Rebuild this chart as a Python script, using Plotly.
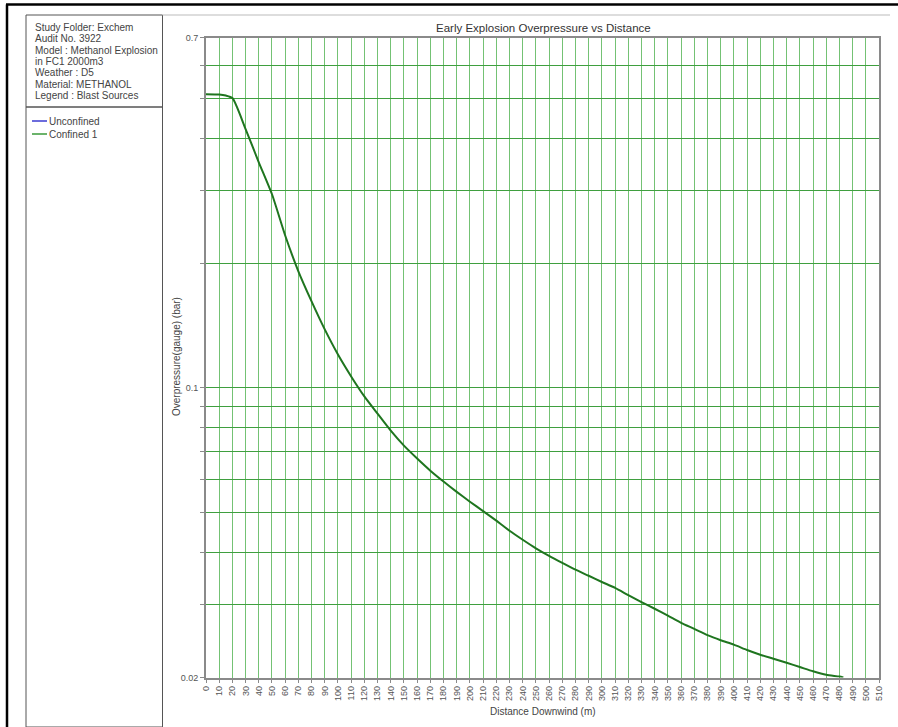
import plotly.graph_objects as go

# ---- data ----
distance_m = [0, 10, 15, 20, 30, 40, 50, 60, 70, 80, 90, 100, 110, 120, 130, 140, 150,
              160, 170, 180, 190, 200, 210, 220, 230, 240, 250, 260, 270, 280, 290,
              300, 310, 320, 330, 340, 350, 360, 370, 380, 390, 400, 410, 420, 430,
              440, 450, 460, 470, 480, 483]
confined_1 = [0.511, 0.510, 0.507, 0.500, 0.421, 0.350, 0.293, 0.233, 0.191, 0.1616,
              0.1383, 0.1203, 0.1065, 0.0953, 0.0866, 0.0788, 0.0725, 0.0675, 0.0631,
              0.0594, 0.0561, 0.0531, 0.0504, 0.0478, 0.0452, 0.0430, 0.0410, 0.0393,
              0.0378, 0.0364, 0.0352, 0.0340, 0.0329, 0.0316, 0.0304, 0.0293, 0.0282,
              0.0271, 0.0262, 0.0253, 0.0246, 0.0240, 0.0233, 0.0227, 0.0222, 0.0217,
              0.0212, 0.0207, 0.0203, 0.0201, 0.0200]

y_grid_vals = [0.02, 0.03, 0.04, 0.05, 0.06, 0.07, 0.08, 0.09, 0.1, 0.2, 0.3, 0.4, 0.5, 0.6, 0.7]
y_grid_text = ["0.02", "", "", "", "", "", "", "", "0.1", "", "", "", "", "", "0.7"]
x_tick_vals = list(range(0, 520, 10))

info_lines = ["Study Folder: Exchem", "Audit No. 3922", "Model : Methanol Explosion",
              "in FC1 2000m3", "Weather : D5", "Material: METHANOL", "Legend : Blast Sources"]
legend_names = ["Unconfined", "Confined 1"]
legend_colors = ["#3b3bd0", "#3a9a3a"]

W, H = 898, 727
def px(x): return x / W
def py(y): return 1 - y / H

FONT = "Liberation Sans, Arial, sans-serif"

fig = go.Figure()
fig.add_trace(go.Scatter(x=distance_m, y=confined_1, mode="lines", name="Confined 1",
                         line=dict(color="#1f751f", width=2, shape="spline", smoothing=0.6),
                         showlegend=False, cliponaxis=True))

fig.update_layout(
    width=W, height=H,
    margin=dict(l=0, r=0, t=0, b=0),
    paper_bgcolor="white", plot_bgcolor="white",
    font=dict(family=FONT, size=10, color="#444"),
    showlegend=False,
    xaxis=dict(domain=[px(206), px(879)], range=[0, 510], tickvals=x_tick_vals,
               ticktext=[str(v) for v in x_tick_vals], tickangle=-90,
               showgrid=True, gridcolor="#74c274", gridwidth=1,
               showline=True, linecolor="#8a8a8a", linewidth=2, mirror=True,
               ticks="outside", ticklen=3, tickcolor="#8a8a8a",
               tickfont=dict(size=9, color="#555"), zeroline=False, automargin=False,
               anchor="y"),
    yaxis=dict(domain=[py(677.5), py(37.5)], type="log",
               range=[-1.69897, -0.1549], tickvals=y_grid_vals, ticktext=y_grid_text,
               showgrid=True, gridcolor="#3f9f3f", gridwidth=1,
               showline=True, linecolor="#8a8a8a", linewidth=2, mirror=True,
               ticks="outside", ticklen=4, tickcolor="#8a8a8a",
               tickfont=dict(size=9, color="#555"), zeroline=False, automargin=False,
               anchor="x"),
)

shapes = []
# outer frame
shapes.append(dict(type="line", xref="paper", yref="paper", x0=px(6), x1=1, y0=py(4.5), y1=py(4.5),
                   line=dict(color="black", width=2.5)))
shapes.append(dict(type="line", xref="paper", yref="paper", x0=px(7), x1=px(7), y0=py(4.5), y1=0,
                   line=dict(color="black", width=2.5)))
# info box
shapes.append(dict(type="rect", xref="paper", yref="paper", x0=px(26), x1=px(162.5),
                   y0=py(107), y1=py(15), line=dict(color="#555", width=1)))
# legend box
shapes.append(dict(type="rect", xref="paper", yref="paper", x0=px(26), x1=px(162.5),
                   y0=py(727), y1=py(107), line=dict(color="#555", width=1)))
# main panel top line
shapes.append(dict(type="line", xref="paper", yref="paper", x0=px(162.5), x1=px(890), y0=py(15), y1=py(15),
                   line=dict(color="#bbb", width=1)))
# legend swatches
for i, c in enumerate(legend_colors):
    yy = 121 + i * 13
    shapes.append(dict(type="line", xref="paper", yref="paper", x0=px(32), x1=px(47),
                       y0=py(yy), y1=py(yy), line=dict(color=c, width=1.5)))

annotations = []
for i, t in enumerate(info_lines):
    annotations.append(dict(text=t, xref="paper", yref="paper", x=px(33), y=py(20 + i * 11.3),
                            xanchor="left", yanchor="top", showarrow=False,
                            font=dict(family=FONT, size=10, color="#444")))
for i, t in enumerate(legend_names):
    yy = 121 + i * 13
    annotations.append(dict(text=t, xref="paper", yref="paper", x=px(47), y=py(yy),
                            xanchor="left", yanchor="middle", showarrow=False,
                            font=dict(family=FONT, size=10, color="#444")))
annotations.append(dict(text="Early Explosion Overpressure vs Distance", xref="paper", yref="paper",
                        x=px(543), y=py(28), xanchor="center", yanchor="middle", showarrow=False,
                        font=dict(family=FONT, size=11.5, color="#333")))
annotations.append(dict(text="Distance Downwind (m)", xref="paper", yref="paper",
                        x=px(543), y=py(711), xanchor="center", yanchor="middle", showarrow=False,
                        font=dict(family=FONT, size=10, color="#444")))
annotations.append(dict(text="Overpressure(gauge) (bar)", xref="paper", yref="paper",
                        x=px(176), y=py(357), xanchor="center", yanchor="middle", showarrow=False,
                        textangle=-90, font=dict(family=FONT, size=10, color="#444")))

fig.update_layout(shapes=shapes, annotations=annotations)
fig.write_html("out.html", config={"displayModeBar": False})

# remove default page margin so the figure sits at the window origin
with open("out.html", "r", encoding="utf-8") as f:
    html = f.read()
html = html.replace("<head>", "<head><style>html,body{margin:0;padding:0;overflow:hidden;}</style>", 1)
with open("out.html", "w", encoding="utf-8") as f:
    f.write(html)
